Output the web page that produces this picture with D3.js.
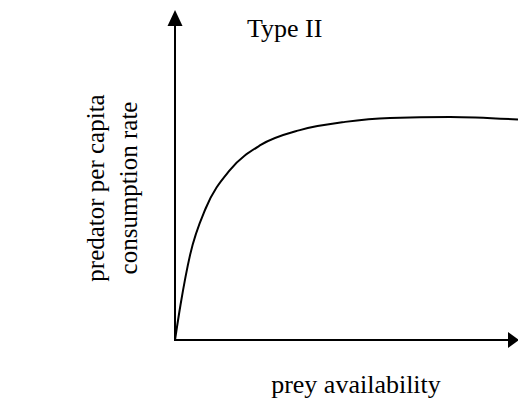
<!DOCTYPE html>
<html>
	<head>
		<meta charset="utf-8">
		<title> Type II </title>
		<script src="https://cdnjs.cloudflare.com/ajax/libs/d3/7.8.5/d3.min.js"></script>
		<style>
			body { margin: 0; background: #fff; }
			text { font-family: "Liberation Serif", "Times New Roman", serif; fill: #000; }
		</style>
	</head>

	<body>
		<script>

		// prey availability (0-100) and consumption rate (0-100)
		let prey = [0, 1.6, 4.4, 9.0, 16.0, 25.0, 36.4, 49.6, 62.7, 80.2, 100];
		let consumption = [0, 10.6, 25.8, 40.0, 51.5, 59.1, 63.6, 66.1, 67.3, 67.6, 66.8];

		let title = 'Type II',
			xLabel = 'prey availability',
			yLabel = ['predator per capita', 'consumption rate'];

		let width = 518,
			height = 400;

		let xScale = d3.scaleLinear()
						.domain([0, 100])
						.range([175, 518]);

		let yScale = d3.scaleLinear()
						.domain([0, 100])
						.range([340, 10]);

		let svg = d3.select('body')
					.append('svg')
					.attr('width', width)
					.attr('height', height);

		let x0 = xScale(0), y0 = yScale(0),
			xEnd = xScale(100), yEnd = yScale(100);

		// axes
		svg.append('line')
			.attr('x1', x0).attr('y1', y0)
			.attr('x2', x0).attr('y2', yEnd + 10)
			.attr('stroke', '#000')
			.attr('stroke-width', 2);

		svg.append('line')
			.attr('x1', x0 - 1).attr('y1', y0)
			.attr('x2', xEnd - 8).attr('y2', y0)
			.attr('stroke', '#000')
			.attr('stroke-width', 2);

		// arrow heads
		svg.append('path')
			.attr('d', `M${x0},${yEnd} L${x0 - 7.5},${yEnd + 16} L${x0 + 7.5},${yEnd + 16} Z`)
			.attr('fill', '#000');

		svg.append('path')
			.attr('d', `M${xEnd + 1},${y0} L${xEnd - 10},${y0 - 8} L${xEnd - 10},${y0 + 8} Z`)
			.attr('fill', '#000');

		// curve
		let line = d3.line()
					.x((d, i) => xScale(prey[i]))
					.y((d) => yScale(d))
					.curve(d3.curveMonotoneX);

		svg.append('path')
			.attr('d', line(consumption))
			.attr('fill', 'none')
			.attr('stroke', '#000')
			.attr('stroke-width', 2);

		// texts
		svg.append('text')
			.attr('x', 247)
			.attr('y', 37)
			.attr('font-size', 26)
			.text(title);

		svg.append('text')
			.attr('x', 356)
			.attr('y', 393)
			.attr('text-anchor', 'middle')
			.attr('font-size', 26)
			.text(xLabel);

		svg.selectAll('.ylab')
			.data(yLabel)
			.enter()
			.append('text')
			.attr('class', 'ylab')
			.attr('text-anchor', 'middle')
			.attr('font-size', 25)
			.attr('transform', (d, i) => `translate(${104 + i * 33},188) rotate(-90)`)
			.text((d) => d);

		</script>
	</body>
</html>
